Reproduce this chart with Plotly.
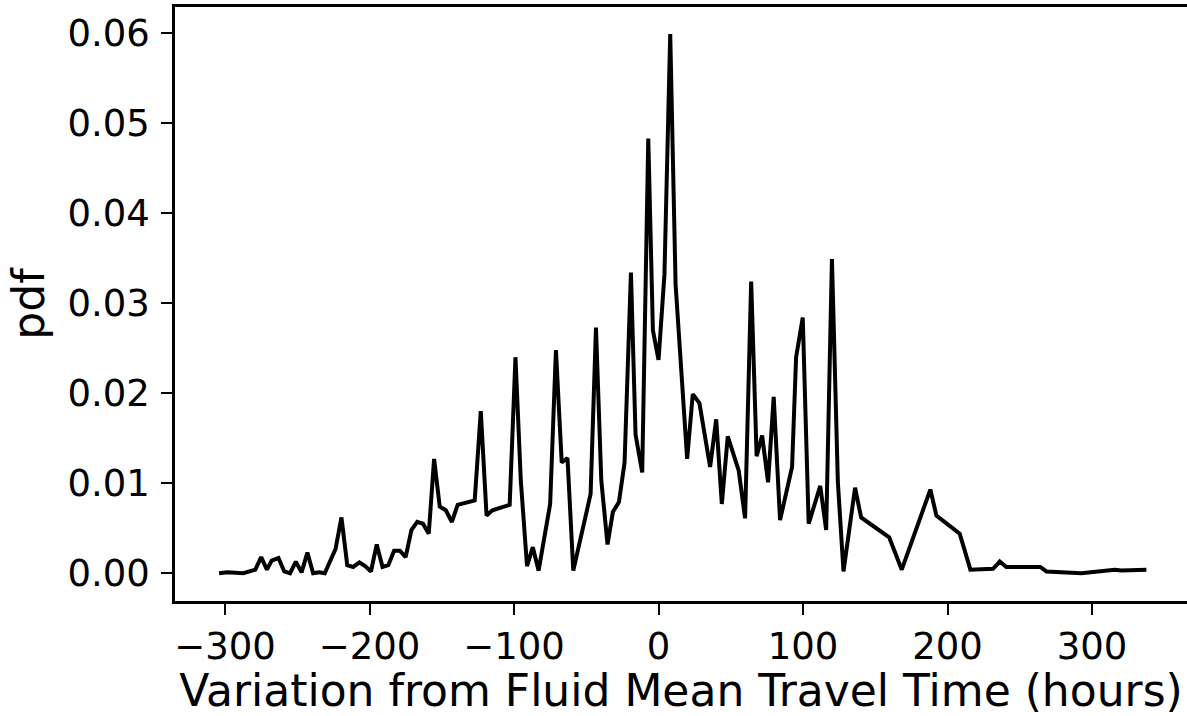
import plotly.graph_objects as go

variation_hours = [
    -304.1, -298.4, -287.3, -279.0, -275.0, -271.0, -267.7, -263.0, -259.0, -255.0,
    -251.0, -247.0, -243.0, -239.0, -234.8, -231.0, -223.5, -219.4, -215.4, -211.3,
    -207.0, -203.0, -199.0, -195.0, -191.0, -187.0, -183.0, -179.0, -175.0, -171.0,
    -167.0, -163.0, -159.0, -155.3, -151.4, -147.2, -143.0, -139.0, -127.2, -123.0,
    -119.0, -115.0, -103.0, -99.0, -95.3, -91.0, -87.0, -83.0, -75.0, -71.0,
    -67.0, -63.0, -59.0, -47.0, -43.3, -39.6, -35.3, -31.6, -27.4, -23.5,
    -19.1, -15.9, -11.3, -7.1, -3.9, 0.0, 4.1, 8.1, 11.8, 19.8,
    23.7, 28.3, 35.7, 39.9, 43.8, 47.9, 55.5, 59.9, 64.1, 67.9,
    71.7, 75.8, 79.7, 84.1, 92.4, 95.2, 99.8, 103.9, 111.9, 116.0,
    120.0, 124.1, 128.0, 136.0, 140.2, 159.6, 168.3, 188.1, 192.3, 208.4,
    215.8, 231.5, 236.1, 240.7, 264.2, 268.4, 292.6, 315.7, 320.3, 337.6,
]
pdf_values = [
    0.0000, 0.0001, 0.0000, 0.0004, 0.0018, 0.0004, 0.0014, 0.0017, 0.0002, 0.0000,
    0.0013, 0.0001, 0.0023, 0.0000, 0.0001, 0.0000, 0.0027, 0.0062, 0.0009, 0.0007,
    0.0012, 0.0008, 0.0002, 0.0032, 0.0007, 0.0009, 0.0025, 0.0025, 0.0018, 0.0048,
    0.0057, 0.0055, 0.0044, 0.0127, 0.0074, 0.0070, 0.0057, 0.0076, 0.0081, 0.0180,
    0.0064, 0.0070, 0.0076, 0.0240, 0.0103, 0.0008, 0.0029, 0.0003, 0.0077, 0.0248,
    0.0123, 0.0128, 0.0003, 0.0088, 0.0273, 0.0103, 0.0032, 0.0068, 0.0079, 0.0123,
    0.0334, 0.0154, 0.0112, 0.0483, 0.0270, 0.0237, 0.0332, 0.0599, 0.0321, 0.0127,
    0.0199, 0.0189, 0.0118, 0.0171, 0.0077, 0.0152, 0.0114, 0.0061, 0.0324, 0.0130,
    0.0153, 0.0101, 0.0196, 0.0059, 0.0118, 0.0240, 0.0284, 0.0055, 0.0097, 0.0048,
    0.0349, 0.0101, 0.0002, 0.0095, 0.0062, 0.0040, 0.0004, 0.0093, 0.0064, 0.0044,
    0.0004, 0.0005, 0.0013, 0.0007, 0.0007, 0.0002, 0.0000, 0.0004, 0.0003, 0.0004,
]

x_tick_vals = [-300, -200, -100, 0, 100, 200, 300]
x_tick_text = ["\u2212300", "\u2212200", "\u2212100", "0", "100", "200", "300"]
y_tick_vals = [0.00, 0.01, 0.02, 0.03, 0.04, 0.05, 0.06]
y_tick_text = ["0.00", "0.01", "0.02", "0.03", "0.04", "0.05", "0.06"]

fig = go.Figure()
fig.add_trace(go.Scatter(
    x=variation_hours, y=pdf_values, mode="lines",
    line=dict(color="black", width=4), showlegend=False,
))

font_family = "DejaVu Sans"
fig.update_layout(
    width=1187, height=716,
    margin=dict(l=175, r=0, t=7, b=115, autoexpand=False),
    paper_bgcolor="white", plot_bgcolor="white",
    font=dict(family=font_family, color="black", size=37),
)
fig.update_xaxes(
    range=[-334.6, 365.7],
    tickvals=x_tick_vals, ticktext=x_tick_text,
    ticks="outside", ticklen=11, tickwidth=2.3, tickcolor="black",
    showline=True, linecolor="black", linewidth=2.5, mirror=True,
    showgrid=False, zeroline=False, automargin=False,
    tickfont=dict(size=37, family=font_family),
    title=dict(text="Variation from Fluid Mean Travel Time (hours)",
               font=dict(size=44, family=font_family), standoff=6),
)
fig.update_yaxes(
    range=[-0.00308, 0.0629],
    tickvals=y_tick_vals, ticktext=y_tick_text,
    ticks="outside", ticklen=11, tickwidth=2.3, tickcolor="black",
    showline=True, linecolor="black", linewidth=2.5, mirror=False,
    showgrid=False, zeroline=False, automargin=False,
    tickfont=dict(size=37, family=font_family),
    ticklabelstandoff=4,
    title=dict(text="pdf", font=dict(size=44, family=font_family), standoff=10),
)

fig.write_html(
    "out.html",
    config={"displayModeBar": False},
    post_script="document.body.style.margin='0';document.body.style.overflow='hidden';",
)
